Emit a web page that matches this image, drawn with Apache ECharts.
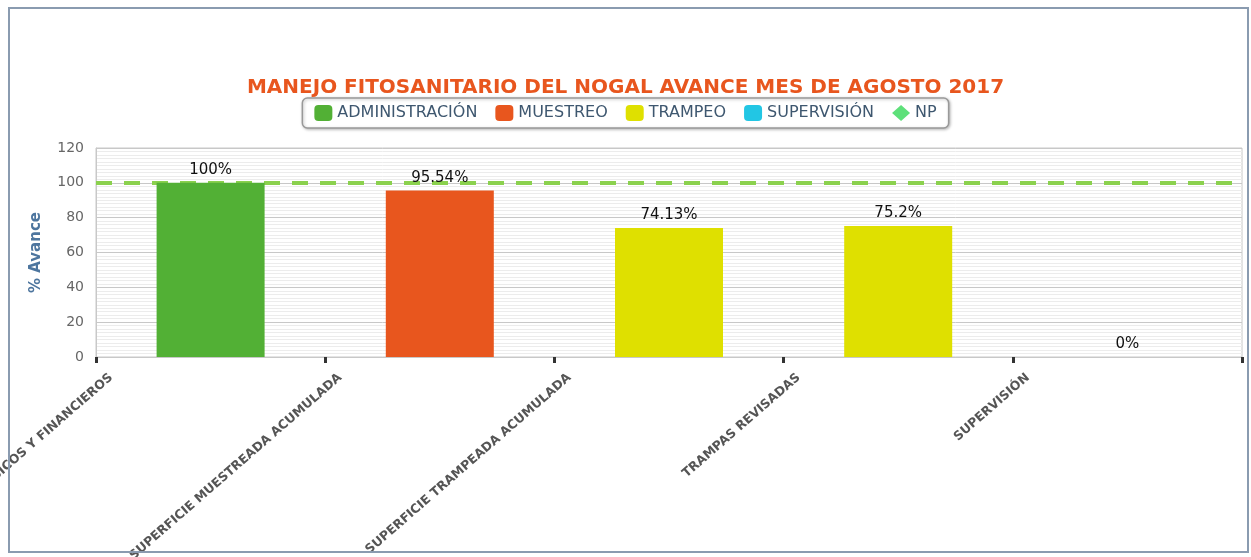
<!DOCTYPE html>
<html lang="es" style="height: 100%">
<head>
  <meta charset="utf-8">
</head>
<body style="height: 100%; margin: 0; background: #fff">
  <div id="container" style="width: 1251px; height: 557px"></div>
  <script src="https://cdn.jsdelivr.net/npm/echarts@6/dist/echarts.min.js"></script>
  <script>
    const categories = [
      'INFORMES FÍSICOS Y FINANCIEROS',
      'SUPERFICIE MUESTREADA ACUMULADA',
      'SUPERFICIE TRAMPEADA ACUMULADA',
      'TRAMPAS REVISADAS',
      'SUPERVISIÓN'
    ];
    const administracion = [100, null, null, null, null];
    const muestreo = [null, 95.54, null, null, null];
    const trampeo = [null, null, 74.13, 75.2, null];
    const supervision = [null, null, null, null, 0];
    const npValue = 100;

    const colors = {
      admin: '#52b035',
      muestreo: '#e8561e',
      trampeo: '#dfe000',
      supervision: '#22c6e4',
      np: '#5ee07a'
    };

    const dom = document.getElementById('container');
    const myChart = echarts.init(dom, null, { renderer: 'canvas' });

    const barLabel = {
      show: true,
      position: 'top',
      distance: 5,
      color: '#111',
      fontFamily: 'DejaVu Sans',
      fontSize: 15,
      formatter: p => p.value == null ? '' : p.value + '%'
    };

    function barSeries(name, data, color) {
      return {
        name,
        type: 'bar',
        stack: 'all',
        barWidth: 108,
        z: 3,
        data,
        itemStyle: { color },
        label: barLabel
      };
    }

    const option = {
      backgroundColor: '#fff',
      animation: false,
      title: {
        text: 'MANEJO FITOSANITARIO DEL NOGAL AVANCE MES DE AGOSTO 2017',
        left: 'center',
        top: 73,
        textStyle: {
          color: '#e8561e',
          fontFamily: 'DejaVu Sans',
          fontWeight: 'bold',
          fontSize: 20
        }
      },
      legend: {
        top: 98,
        left: 'center',
        itemWidth: 18,
        itemHeight: 16,
        itemGap: 18,
        padding: [7, 12, 7, 12],
        borderColor: '#999',
        borderWidth: 1.5,
        borderRadius: 5,
        shadowColor: 'rgba(0,0,0,0.25)',
        shadowBlur: 3,
        shadowOffsetX: 1,
        shadowOffsetY: 1,
        backgroundColor: '#fff',
        textStyle: {
          color: '#3e576f',
          fontFamily: 'DejaVu Sans',
          fontSize: 16
        },
        data: [
          { name: 'ADMINISTRACIÓN', icon: 'roundRect' },
          { name: 'MUESTREO', icon: 'roundRect' },
          { name: 'TRAMPEO', icon: 'roundRect' },
          { name: 'SUPERVISIÓN', icon: 'roundRect' },
          { name: 'NP', icon: 'diamond' }
        ]
      },
      grid: {
        left: 96,
        right: 9,
        top: 148,
        bottom: 200,
        containLabel: false,
        outerBoundsMode: 'none',
        show: true,
        borderColor: '#c8c8c8',
        borderWidth: 1
      },
      xAxis: {
        type: 'category',
        data: categories,
        axisLine: { show: true, lineStyle: { color: '#c8c8c8' } },
        axisTick: {
          show: true,
          length: 6,
          lineStyle: { color: '#333', width: 3 }
        },
        axisLabel: {
          rotate: 41,
          interval: 0,
          margin: 10,
          align: 'right',
          verticalAlign: 'bottom',
          padding: [0, 81, 52, 0],
          color: '#555',
          fontFamily: 'DejaVu Sans',
          fontWeight: 'bold',
          fontSize: 12.5
        }
      },
      yAxis: {
        type: 'value',
        min: 0,
        max: 120,
        interval: 20,
        name: '% Avance',
        nameLocation: 'middle',
        nameGap: 52,
        nameTextStyle: {
          color: '#4d759e',
          fontFamily: 'DejaVu Sans',
          fontWeight: 'bold',
          fontSize: 15
        },
        axisLine: { show: true, lineStyle: { color: '#c8c8c8' } },
        axisTick: { show: false },
        axisLabel: {
          color: '#666',
          fontFamily: 'DejaVu Sans',
          fontSize: 14,
          margin: 12
        },
        splitLine: { lineStyle: { color: '#c8c8c8' } },
        minorTick: { show: false, splitNumber: 10 },
        minorSplitLine: { show: true, lineStyle: { color: '#ececec' } }
      },
      series: [
        barSeries('ADMINISTRACIÓN', administracion, colors.admin),
        barSeries('MUESTREO', muestreo, colors.muestreo),
        barSeries('TRAMPEO', trampeo, colors.trampeo),
        barSeries('SUPERVISIÓN', supervision, colors.supervision),
        {
          name: 'NP',
          type: 'line',
          z: 1,
          data: [],
          itemStyle: { color: colors.np },
          markLine: {
            silent: true,
            symbol: 'none',
            z: 1,
            label: { show: false },
            lineStyle: { color: '#8bd14e', type: [16, 12], width: 4 },
            data: [{ yAxis: npValue }]
          }
        }
      ],
      graphic: [
        {
          type: 'rect',
          shape: { x: 9, y: 8, width: 1239, height: 544 },
          style: { fill: 'none', stroke: '#8a9bb0', lineWidth: 2 },
          z: 100
        }
      ]
    };

    myChart.setOption(option);
    window.addEventListener('resize', myChart.resize);
  </script>
</body>
</html>
